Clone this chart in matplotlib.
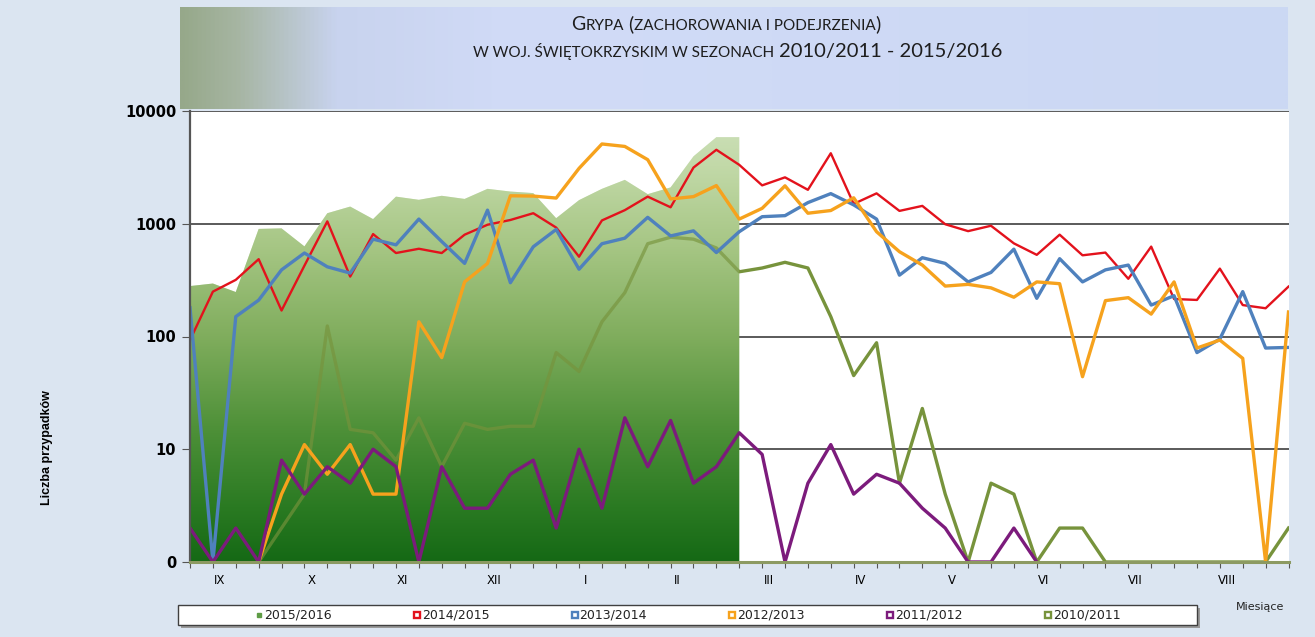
import numpy as np
import matplotlib
matplotlib.use('Agg')
import matplotlib.pyplot as plt
from matplotlib.colors import LinearSegmentedColormap
from matplotlib.lines import Line2D
from matplotlib.patches import Rectangle
from matplotlib.ticker import NullLocator

# ---- dane: tygodnie sezonu (IX -> VIII), liczba zachorowań ----
months = ['IX', 'X', 'XI', 'XII', 'I', 'II', 'III', 'IV', 'V', 'VI', 'VII', 'VIII']
n_weeks = 49
weeks = np.arange(n_weeks)

season_labels = ['2015/2016', '2014/2015', '2013/2014', '2012/2013', '2011/2012', '2010/2011']

s2015 = [280, 295, 248, 900, 910, 630, 1240, 1420, 1100, 1740, 1630, 1770, 1660,
         2040, 1930, 1870, 1120, 1620, 2040, 2450, 1830, 2100, 3960, 5860, 5860]
s2014 = [93, 250, 318, 485, 170, 425, 1050, 340, 810, 550, 600, 550, 800, 980, 1080,
         1240, 925, 510, 1070, 1320, 1740, 1400, 3150, 4530, 3330, 2190, 2580, 2000,
         4220, 1500, 1860, 1300, 1440, 990, 860, 960, 670, 530, 800, 525, 555, 325,
         627, 215, 211, 400, 190, 178, 277]
s2013 = [180, 0, 150, 210, 390, 550, 415, 365, 730, 650, 1100, 695, 445, 1320, 300,
         625, 890, 395, 665, 745, 1140, 780, 865, 555, 850, 1155, 1180, 1540, 1850,
         1470, 1100, 350, 500, 445, 305, 370, 595, 218, 490, 305, 390, 430, 190, 230,
         72, 95, 250, 79, 80]
s2012 = [np.nan, np.nan, np.nan, 0, 4, 11, 6, 11, 4, 4, 135, 65, 305, 445, 1770, 1760,
         1690, 3100, 5100, 4850, 3700, 1660, 1740, 2180, 1100, 1370, 2170, 1240, 1310,
         1700, 850, 565, 430, 280, 290, 270, 223, 305, 294, 44, 208, 221, 158, 305, 79,
         93, 64, 0, 165]
s2011 = [2, 0, 2, 0, 8, 4, 7, 5, 10, 7, 0, 7, 3, 3, 6, 8, 2, 10, 3, 19, 7, 18, 5, 7,
         14, 9, 0, 5, 11, 4, 6, 5, 3, 2, 0, 0, 2, 0] + [np.nan] * 11
s2010 = [np.nan, np.nan, np.nan, 0, 2, 4, 124, 15, 14, 8, 19, 7, 17, 15, 16, 16, 72,
         49, 135, 245, 665, 760, 730, 610, 375, 405, 455, 405, 150, 45, 88, 5, 23, 4,
         0, 5, 4, 0, 2, 2, 0, 0, 0, 0, 0, 0, 0, 0, 2]

colors = ['#5e9c45', '#e3121c', '#4f81bd', '#f6a21d', '#7c1b7c', '#77933c']


def on_log(v):
    # 0 rysowane na dole osi (pozycja "1" w skali log)
    a = np.array(v, dtype=float)
    return np.where(a == 0, 1, a)


W, H = 1315, 637
fig = plt.figure(figsize=(W / 100, H / 100), dpi=100)
fig.patch.set_facecolor('#dbe5f1')

# ---- pasek tytułu z gradientem ----
hax = fig.add_axes([180 / W, 1 - 109 / H, (1288 - 180) / W, (109 - 7) / H])
hax.axis('off')
hcmap = LinearSegmentedColormap.from_list('hdr', [(0, '#96a88a'), (0.05, '#a6b5a2'),
                                                  (0.14, '#c8d3ee'), (0.3, '#d1dbf7'),
                                                  (1, '#cbd8f3')])
hax.imshow(np.linspace(0, 1, 512)[None, :], cmap=hcmap, aspect='auto', extent=[0, 1, 0, 1])

# ---- wykres ----
ax = fig.add_axes([190 / W, 1 - 562 / H, (1288.5 - 190) / W, (562 - 111) / H])
ax.set_facecolor('white')
ax.set_yscale('log')

# sezon 2015/2016 - obszar z gradientem
xa = weeks[:len(s2015)]
poly = ax.fill_between(xa, 1, s2015, facecolor='none', lw=0)
area_path = poly.get_paths()[0]
gcmap = LinearSegmentedColormap.from_list('area', [(0, '#156915'), (0.12, '#2a7a22'),
                                                   (0.3, '#4f9139'), (0.5, '#80ad5d'),
                                                   (0.7, '#a6c684'), (0.88, '#c2d9a8'),
                                                   (1, '#cfe2bd')])
grad = np.linspace(0, 1, 256)[:, None]
g_ext = [0, (len(s2015) - 1) / (n_weeks - 1), 0, 1]
im = ax.imshow(grad, cmap=gcmap, origin='lower', aspect='auto', extent=g_ext,
               transform=ax.transAxes, zorder=1)
im.set_clip_path(area_path, transform=ax.transData)

# 2010/2011 - pod półprzezroczystą warstwą obszaru
ax.plot(weeks, on_log(s2010), color=colors[5], lw=2.4, zorder=2)
im2 = ax.imshow(grad, cmap=gcmap, origin='lower', aspect='auto', extent=g_ext,
                transform=ax.transAxes, zorder=2.5, alpha=0.35)
im2.set_clip_path(area_path, transform=ax.transData)

series = [s2014, s2013, s2012, s2011]
widths = [1.7, 2.4, 2.4, 2.4]
for i, (s, lw) in enumerate(zip(series, widths)):
    ax.plot(weeks, on_log(s), color=colors[i + 1], lw=lw, zorder=3 + i)

ax.set_xlim(0, n_weeks - 1)
ax.set_ylim(1, 10000)

ax.set_yticks([1, 10, 100, 1000, 10000])
ax.set_yticklabels(['0', '10', '100', '1000', '10000'], fontweight='bold',
                   fontsize=10.5, family='DejaVu Sans')
ax.yaxis.set_minor_locator(NullLocator())
ax.yaxis.grid(True, color='#2e2e2e', lw=1.1)
ax.set_axisbelow(True)
ax.tick_params(axis='y', direction='out', length=6, color='#555555', pad=4)

ax.set_xticks(weeks)
ax.set_xticklabels([])
ax.set_xticks([1.3 + 4 * k for k in range(len(months))], minor=True)
ax.set_xticklabels(months, minor=True, fontsize=8.5, family='DejaVu Sans')
ax.tick_params(axis='x', which='major', direction='out', length=4, color='#555555')
ax.tick_params(axis='x', which='minor', length=0, pad=9)

for side in ['top', 'right']:
    ax.spines[side].set_visible(False)
ax.spines['left'].set_color('#555555')
ax.spines['left'].set_linewidth(1.6)
ax.spines['bottom'].set_color('#8c9a62')
ax.spines['bottom'].set_linewidth(2.2)
ax.spines['bottom'].set_zorder(10)
ax.spines['left'].set_zorder(10)

# ---- tytuł (kapitaliki) ----
renderer = fig.canvas.get_renderer()


def draw_segments(parts, y_px, xc_px):
    arts = []
    for txt, size, gap in parts:
        t = fig.text(0, 1 - y_px / H, txt, fontsize=size, family='Lato', color='#1e1e1e',
                     va='baseline', ha='left')
        arts.append((t, gap))
    total = sum(t.get_window_extent(renderer).width + g for t, g in arts)
    x = xc_px - total / 2
    for t, g in arts:
        x += g
        t.set_x(x / W)
        x += t.get_window_extent(renderer).width


draw_segments([('G', 14, 0), ('RYPA', 11, 0), ('(', 14, 4),
               ('ZACHOROWANIA I PODEJRZENIA', 11, 0), (')', 14, 0)], 30, 726)
draw_segments([('W WOJ. ŚWIĘTOKRZYSKIM W SEZONACH', 11, 0),
               ('2010/2011 - 2015/2016', 14.5, 5)], 57, 738)

# ---- opisy osi ----
fig.text(47 / W, 1 - 448 / H, 'Liczba przypadków', rotation=90, fontweight='bold',
         fontsize=9, family='Liberation Sans', ha='center', va='center')
fig.text(1260 / W, 1 - 607 / H, 'Miesiące', fontsize=8, family='DejaVu Sans',
         ha='center', va='center', color='#222222')

# ---- legenda ----
lx0, lx1, ly0, ly1 = 178, 1197, 605, 625
fig.add_artist(Rectangle(((lx0 + 3) / W, 1 - (ly1 + 3) / H), (lx1 - lx0) / W,
                         (ly1 - ly0) / H, transform=fig.transFigure,
                         facecolor='#9a9a9a', edgecolor='none'))
fig.add_artist(Rectangle((lx0 / W, 1 - ly1 / H), (lx1 - lx0) / W, (ly1 - ly0) / H,
                         transform=fig.transFigure, facecolor='white',
                         edgecolor='#404040', lw=1))
ly = (ly0 + ly1) / 2
for i, (lab, c) in enumerate(zip(season_labels, colors)):
    xm = 259 + 157.8 * i
    if i == 0:
        fig.add_artist(Line2D([xm / W], [1 - ly / H], marker='s', ms=3.5, mfc=c, mec=c,
                              ls='none', transform=fig.transFigure))
    else:
        fig.add_artist(Line2D([xm / W], [1 - ly / H], marker='s', ms=5, mfc='white',
                              mec=c, mew=1.7, ls='none', transform=fig.transFigure))
    fig.text((xm + 5) / W, 1 - ly / H, lab, fontsize=9, family='DejaVu Sans',
             ha='left', va='center', color='#222222')

fig.savefig('out.png', dpi=100, facecolor=fig.get_facecolor())
